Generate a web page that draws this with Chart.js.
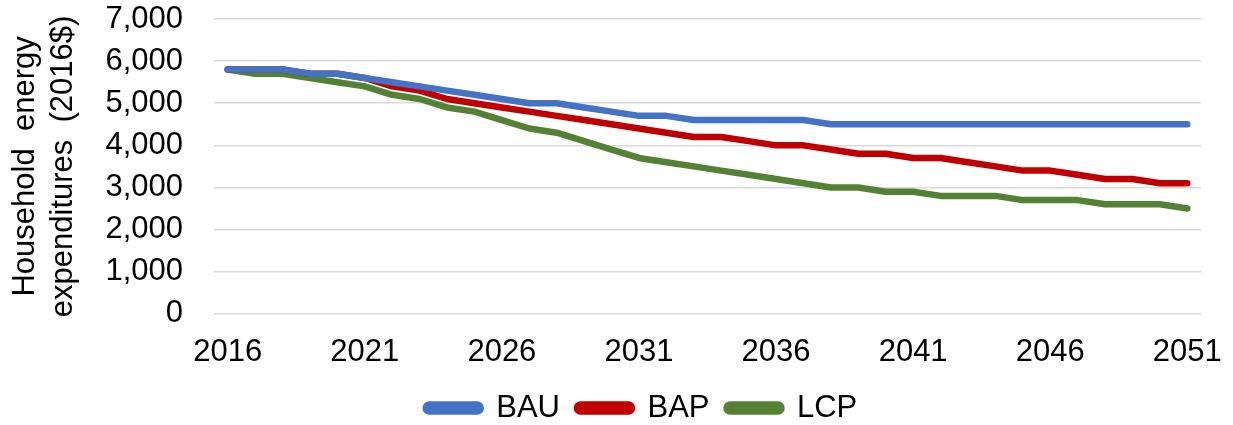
<!DOCTYPE html>
<html>
<head>
<meta charset="utf-8">
<script src="https://cdn.jsdelivr.net/npm/chart.js@4.4.1/dist/chart.umd.min.js"></script>
<style>
  html, body { margin: 0; padding: 0; background: #fff; }
  #wrap { width: 1233px; height: 425px; }
</style>
</head>
<body>
<div id="wrap"><canvas id="energyChart"></canvas></div>
<script>
// Data ==================================
const years = [2016, 2017, 2018, 2019, 2020, 2021, 2022, 2023, 2024, 2025,
  2026, 2027, 2028, 2029, 2030, 2031, 2032, 2033, 2034, 2035,
  2036, 2037, 2038, 2039, 2040, 2041, 2042, 2043, 2044, 2045,
  2046, 2047, 2048, 2049, 2050, 2051];

const bau = [5800, 5800, 5800, 5700, 5700, 5600, 5500, 5400, 5300, 5200,
  5100, 5000, 5000, 4900, 4800, 4700, 4700, 4600, 4600, 4600,
  4600, 4600, 4500, 4500, 4500, 4500, 4500, 4500, 4500, 4500,
  4500, 4500, 4500, 4500, 4500, 4500];

const bap = [5800, 5800, 5800, 5700, 5700, 5600, 5400, 5300, 5100, 5000,
  4900, 4800, 4700, 4600, 4500, 4400, 4300, 4200, 4200, 4100,
  4000, 4000, 3900, 3800, 3800, 3700, 3700, 3600, 3500, 3400,
  3400, 3300, 3200, 3200, 3100, 3100];

const lcp = [5800, 5700, 5700, 5600, 5500, 5400, 5200, 5100, 4900, 4800,
  4600, 4400, 4300, 4100, 3900, 3700, 3600, 3500, 3400, 3300,
  3200, 3100, 3000, 3000, 2900, 2900, 2800, 2800, 2800, 2700,
  2700, 2700, 2600, 2600, 2600, 2500];

const yTicks = [0, 1000, 2000, 3000, 4000, 5000, 6000, 7000];

// Chart setup ===========================
const font = 'Liberation Sans, Arial, sans-serif';

function lineSet(label, data, color) {
  return {
    label: label,
    data: data,
    borderColor: color,
    backgroundColor: color,
    borderWidth: 6.5,
    pointRadius: 0,
    pointHoverRadius: 0,
    borderCapStyle: 'round',
    borderJoinStyle: 'round',
    tension: 0
  };
}

// nudge the legend to where the original has it
const legendShift = {
  id: 'legendShift',
  afterLayout(chart) {
    const lg = chart.legend;
    lg.left += 41;
    lg.right += 41;
    lg.top -= 15.5;
    lg.bottom -= 15.5;
  }
};

const configEnergy = {
  type: 'line',
  data: {
    labels: years,
    datasets: [
      lineSet('BAU', bau, '#4472C4'),
      lineSet('BAP', bap, '#C00000'),
      lineSet('LCP', lcp, '#548235')
    ]
  },
  plugins: [legendShift],
  options: {
    responsive: true,
    maintainAspectRatio: false,
    animation: false,
    layout: { padding: { top: 19, right: 32, bottom: -24, left: 0 } },
    plugins: {
      tooltip: { enabled: false },
      legend: {
        position: 'bottom',
        labels: {
          font: { family: font, size: 31 },
          color: '#000',
          boxWidth: 55,
          boxHeight: 7,
          padding: 17,
          useBorderRadius: true,
          borderRadius: 3.5
        }
      }
    },
    scales: {
      x: {
        offset: true,
        afterFit: function(scale) {
          scale.paddingLeft = 0;
          scale.paddingRight = 0;
        },
        grid: { display: false, drawTicks: false },
        border: { display: false },
        ticks: {
          autoSkip: false,
          maxRotation: 0,
          padding: 20,
          color: '#000',
          font: { family: font, size: 31 },
          callback: function(value, index) {
            return index % 5 === 0 ? years[index] : '';
          }
        }
      },
      y: {
        min: yTicks[0],
        max: yTicks[yTicks.length - 1],
        afterFit: function(scale) {
          scale.width = 214;
          scale.paddingTop = 0;
          scale.paddingBottom = 0;
        },
        grid: { color: '#d9d9d9', lineWidth: 1.5, drawTicks: false },
        border: { display: false },
        ticks: {
          stepSize: yTicks[1] - yTicks[0],
          autoSkip: false,
          padding: 31,
          color: '#000',
          font: { family: font, size: 31 },
          callback: function(value) {
            return value.toLocaleString('en-US');
          }
        },
        title: {
          display: true,
          text: ['Household  energy', 'expenditures  (2016$)'],
          color: '#000',
          font: { family: font, size: 31, lineHeight: 1.23 },
          padding: { top: 6, bottom: 0 }
        }
      }
    }
  }
};

const energyChart = new Chart(
  document.getElementById('energyChart'),
  configEnergy
);
</script>
</body>
</html>
